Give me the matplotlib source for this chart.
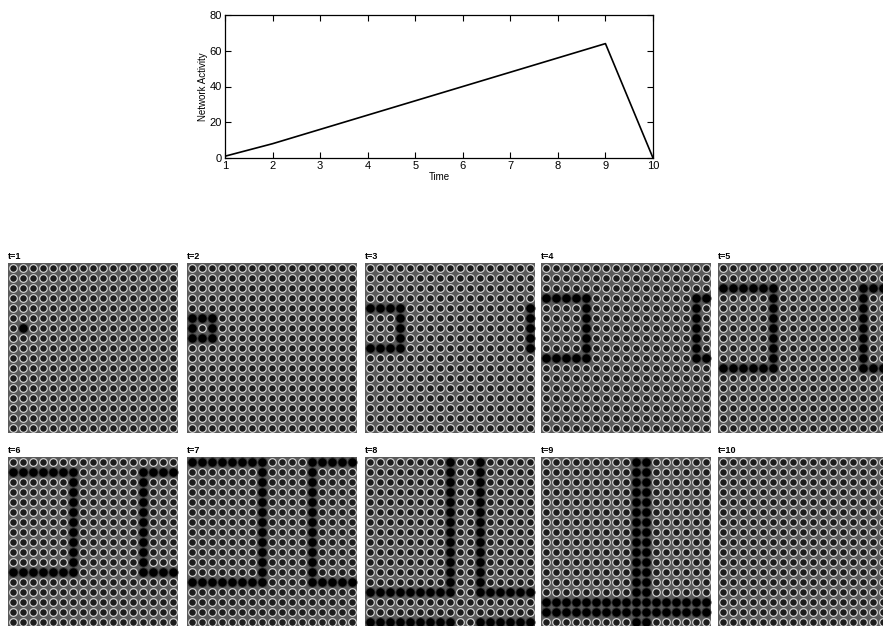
import numpy as np
import matplotlib
matplotlib.use("Agg")
import matplotlib.pyplot as plt

plt.rcParams['font.family'] = ['Liberation Sans', 'DejaVu Sans']

# Network activity over time
time = [1, 2, 3, 4, 5, 6, 7, 8, 9, 10]
activity = [1, 8, 16, 24, 32, 40, 48, 56, 64, 0]

# Lattice snapshots: 17x17 toroidal sheet, wave starting from one node
grid_size = 17
source_row, source_col = 6, 1
wave_radius = [0, 1, 2, 3, 4, 5, 6, 7, 8, None]   # None: wave has died out
panel_titles = ["t=1", "t=2", "t=3", "t=4", "t=5",
                "t=6", "t=7", "t=8", "t=9", "t=10"]

W, H = 883, 626
fig = plt.figure(figsize=(W / 100, H / 100), dpi=100)


def px_axes(left, top, width, height):
    return fig.add_axes([left / W, 1 - (top + height) / H, width / W, height / H])


# --- activity trace ---
ax = px_axes(225, 15, 428, 143)
ax.plot(time, activity, color='black', lw=1.2)
ax.set_xlim(1, 10)
ax.set_ylim(0, 80)
ax.set_xticks(time)
ax.set_yticks([0, 20, 40, 60, 80])
ax.tick_params(direction='in', top=True, right=True, length=4, width=0.8,
               labelsize=8, pad=2)
for s in ax.spines.values():
    s.set_linewidth(0.9)
ax.set_xlabel("Time", fontsize=7, labelpad=1)
ax.set_ylabel("Network Activity", fontsize=7, labelpad=1)

# --- lattice snapshots ---
rows, cols = np.mgrid[0:grid_size, 0:grid_size]
dr = np.abs(rows - source_row)
dc = np.abs(cols - source_col)
dr = np.minimum(dr, grid_size - dr)
dc = np.minimum(dc, grid_size - dc)
dist = np.maximum(dr, dc)

lefts = [8, 187, 365, 541, 718]
tops = [263, 457]
size = 170

for i, title in enumerate(panel_titles):
    a = px_axes(lefts[i % 5], tops[i // 5], size, size)
    a.set_facecolor('#5a5a5a')
    r = wave_radius[i]
    active = np.zeros_like(dist, dtype=bool) if r is None else (dist == r)
    a.scatter(cols[~active], rows[~active], s=30, facecolor='#1c1c1c',
              edgecolor='#dcdcdc', linewidths=0.8)
    a.scatter(cols[active], rows[active], s=44, facecolor='black',
              edgecolor='#333333', linewidths=0.6)
    a.set_xlim(-0.5, grid_size - 0.5)
    a.set_ylim(grid_size - 0.5, -0.5)
    a.set_xticks([])
    a.set_yticks([])
    for s in a.spines.values():
        s.set_visible(False)
    a.text(0.0, 1.01, title, transform=a.transAxes, fontsize=6.5,
           fontweight='bold', ha='left', va='bottom')

fig.savefig("out.png", dpi=100)
